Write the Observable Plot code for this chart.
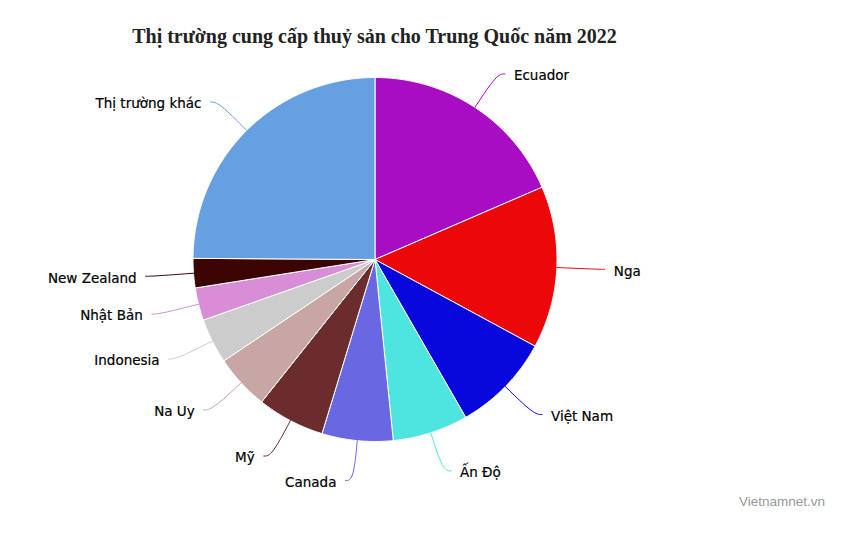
<!DOCTYPE html>
<html>
<head>
<meta charset="utf-8">
<script src="https://cdn.jsdelivr.net/npm/d3@7"></script>
<script src="https://cdn.jsdelivr.net/npm/@observablehq/plot@0.6"></script>
<style>
  body { margin: 0; background: #fff; }
  #wrap { position: relative; width: 847px; height: 537px; }
  #title {
    position: absolute; left: 0; top: 25px; width: 749px; text-align: center;
    font: bold 20px "Liberation Serif", "Times New Roman", serif; color: #222;
  }
  #chart { position: absolute; left: 0; top: 60px; }
  #credit {
    position: absolute; left: 739px; top: 494px;
    font: 13.5px "Liberation Sans", Arial, sans-serif; color: #999;
  }
</style>
</head>
<body>
<div id="wrap">
  <div id="title">Thị trường cung cấp thuỷ sản cho Trung Quốc năm 2022</div>
  <div id="chart"></div>
  <div id="credit">Vietnamnet.vn</div>
</div>
<script>
// Share of China's seafood imports, 2022 (%)
const markets = ["Ecuador", "Nga", "Việt Nam", "Ấn Độ", "Canada", "Mỹ", "Na Uy", "Indonesia", "Nhật Bản", "New Zealand", "Thị trường khác"];
const shares = [18.5, 14.4, 8.8, 6.7, 6.3, 6.0, 4.9, 4.0, 2.9, 2.6, 24.9];
const colors = ["#a80dc4", "#ec0808", "#0808dc", "#4ee5e0", "#6a67e3", "#6b2c2e", "#c9a6a6", "#cccccc", "#d88ed6", "#3d0404", "#66a0e0"];

// layout (pixels inside the svg)
const W = 847, H = 477;
const cx = 374.5, cy = 199, R = 182;

// pie angles, clockwise from 12 o'clock
const arcs = d3.pie().sort(null).value(d => d.share)(
  markets.map((name, i) => ({name, share: shares[i]}))
);

// unit-radius coordinates, y up
const pt = (a, r) => ({x: r * Math.sin(a), y: r * Math.cos(a)});

const slices = arcs.flatMap(a => {
  const n = Math.max(2, Math.ceil((a.endAngle - a.startAngle) / 0.01));
  const pts = [{name: a.data.name, ...pt(0, 0)}];
  for (let k = 0; k <= n; k++) {
    const t = a.startAngle + (a.endAngle - a.startAngle) * k / n;
    pts.push({name: a.data.name, ...pt(t, 1)});
  }
  pts.push({name: a.data.name, ...pt(0, 0)});
  return pts;
});

const labels = arcs.map(a => {
  const m = (a.startAngle + a.endAngle) / 2;
  const right = Math.sin(m) >= 0;
  const p0 = pt(m, 1), p1 = pt(m, 1 + 40 / R);
  const p2 = {x: p1.x + (right ? 8 : -8) / R, y: p1.y};
  return {name: a.data.name, right, p0, p1, p2};
});

const connectors = labels.flatMap(l => [l.p0, l.p1, l.p2].map(p => ({name: l.name, ...p})));

const labelStyle = {fontSize: 13.5, fontFamily: "DejaVu Sans", fill: "#000", stroke: "#000", strokeWidth: 0.2, dy: 2};

const chart = Plot.plot({
  width: W,
  height: H,
  margin: 0,
  x: {domain: [-cx / R, (W - cx) / R], range: [0, W], axis: null},
  y: {domain: [-(H - cy) / R, cy / R], range: [H, 0], axis: null},
  color: {domain: markets, range: colors},
  marks: [
    Plot.line(slices, {x: "x", y: "y", z: "name", fill: "name", stroke: "white", strokeWidth: 1, curve: "linear"}),
    Plot.line(connectors, {x: "x", y: "y", z: "name", stroke: "name", strokeWidth: 1, curve: "basis"}),
    Plot.text(labels.filter(l => l.right), {
      x: d => d.p2.x, y: d => d.p2.y, text: "name", textAnchor: "start", dx: 9, ...labelStyle
    }),
    Plot.text(labels.filter(l => !l.right), {
      x: d => d.p2.x, y: d => d.p2.y, text: "name", textAnchor: "end", dx: -9, ...labelStyle
    })
  ]
});

document.getElementById("chart").append(chart);
</script>
</body>
</html>
